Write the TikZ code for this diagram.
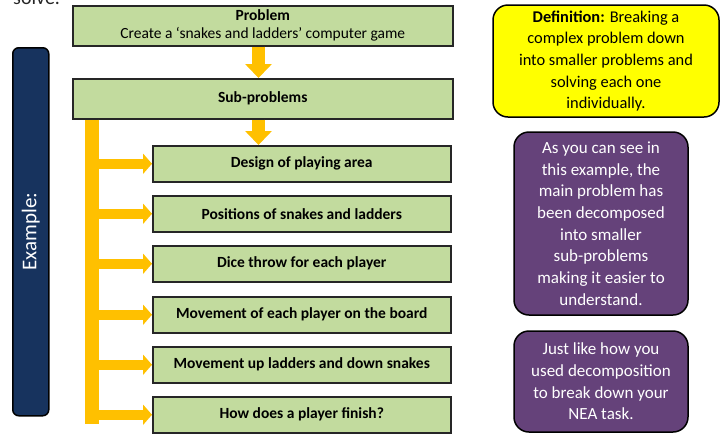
\documentclass[tikz,border=0pt]{standalone}
\usepackage{fontspec}
\setmainfont{Carlito}
\usetikzlibrary{arrows.meta,calc}
\definecolor{leaf}{HTML}{C2DB9E}
\definecolor{amber}{HTML}{FFC000}
\definecolor{navy}{HTML}{17335E}
\definecolor{plum}{HTML}{65427A}
\definecolor{lemon}{HTML}{FFFF00}
\definecolor{edge}{HTML}{262626}
\begin{document}
\begin{tikzpicture}[x=1pt,y=-1pt,
  greenbox/.style={draw=edge, line width=1.5pt, fill=leaf, inner sep=0pt,
    anchor=north west, align=center},
  stepbox/.style={greenbox, minimum width=298pt, minimum height=36pt,
    font=\fontsize{15.5}{17}\selectfont\bfseries},
  headbox/.style={greenbox, minimum width=380pt, minimum height=40pt,
    font=\fontsize{15.5}{18}\selectfont},
  notebox/.style={draw=black, line width=1.5pt, rounded corners=15pt,
    inner sep=0pt, align=center, font=\fontsize{17}{21.7}\selectfont},
  flow/.style={draw=amber, line width=13pt, -{Triangle[width=26pt,length=14pt]}},
  branch/.style={draw=amber, line width=10pt, -{Triangle[width=20pt,length=9pt]}}
]
\useasboundingbox (0,0) rectangle (726,440);

% heading cut by the top edge
\node[anchor=base west, inner sep=0pt, font=\fontsize{20}{22}\selectfont,
  text=black!85] (cut) at (13,4) {solve.};

% main problem and its sub-problems
\node[headbox] (prob) at (72,5) {\textbf{Problem}\\Create a ‘snakes and ladders’ computer game};
\node[headbox, font=\fontsize{15.5}{17}\selectfont\bfseries] (sub) at (72,78) {Sub-problems};

\node[stepbox] (s1) at (152,145) {Design of playing area};
\node[stepbox] (s2) at (152,195) {Positions of snakes and ladders};
\node[stepbox] (s3) at (152,245) {Dice throw for each player};
\node[stepbox] (s4) at (152,296) {Movement of each player on the board};
\node[stepbox] (s5) at (152,346) {Movement up ladders and down snakes};
\node[stepbox] (s6) at (152,396) {How does a player finish?};

% block arrows
\coordinate (ax) at (258.5,0);
\coordinate (bx) at (92,0);
\coordinate (br) at (99,0);
\coordinate (bend) at (92,424);
\draw[flow] (prob.south -| ax) -- (sub.north -| ax);
\draw[flow] (sub.south -| ax) -- (s1.north -| ax);
\draw[draw=amber, line width=14pt] (sub.south -| bx) -- (bend);
\foreach \s in {s1,s2,s3,s4,s5,s6}
  \draw[branch] (\s.west -| br) -- (\s.west);

% side label
\node[draw=black, line width=1.5pt, fill=navy, rounded corners=6pt,
  minimum width=36pt, minimum height=368pt, anchor=north west, inner sep=0pt]
  (ex) at (12,47) {};
\node[rotate=90, text=white, font=\fontsize{21}{23}\selectfont] (exlabel)
  at (ex.center) {Example:};

% notes on the right
\node[notebox, fill=lemon, minimum width=226pt, minimum height=112pt,
  font=\fontsize{16.4}{21.7}\selectfont] (def)
  at (606,61) {\textbf{Definition:} Breaking a\\complex problem down\\into smaller problems and\\solving each one\\individually.};
\node[notebox, fill=plum, text=white, minimum width=174pt, minimum height=183pt] (n1)
  at (601,223.5) {As you can see in\\this example, the\\main problem has\\been decomposed\\into smaller\\sub-problems\\making it easier to\\understand.};
\node[notebox, fill=plum, text=white, minimum width=174pt, minimum height=101pt] (n2)
  at (601,381.5) {Just like how you\\used decomposition\\to break down your\\NEA task.};
\end{tikzpicture}
\end{document}
